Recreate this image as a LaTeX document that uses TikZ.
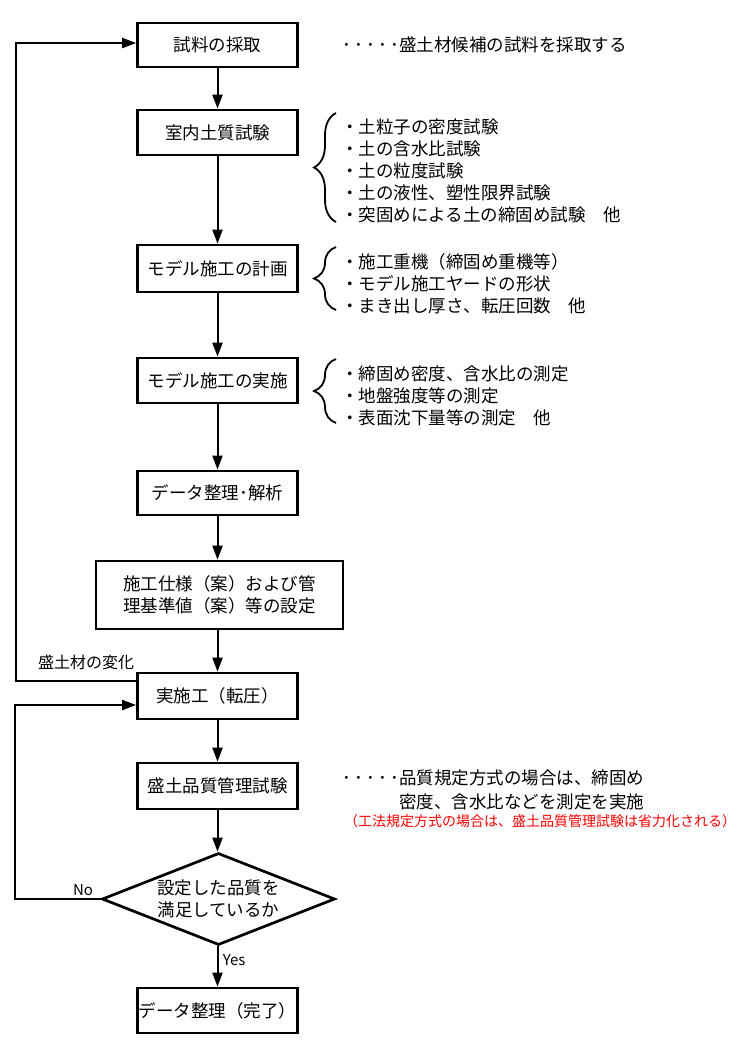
\documentclass[tikz,border=0pt]{standalone}
\usepackage{fontspec}
\setmainfont{Noto Sans CJK JP}
\usetikzlibrary{arrows.meta,shapes.geometric,decorations.pathreplacing}
\newcommand\mainfs{\fontsize{17.5}{22}\selectfont}
\newcommand\fivedots{\hbox to 57pt{･\hfil･\hfil･\hfil･\hfil･}}
\begin{document}
\begin{tikzpicture}[x=1pt,y=-1pt,
 box/.style={draw, line width=2.7pt, minimum width=160pt, minimum height=45pt, inner sep=0pt, font=\mainfs, align=center},
 arr/.style={-{Triangle[length=14pt,width=10pt]}, line width=2pt},
 brc/.style={decorate, decoration={brace, amplitude=22pt}, line width=1.8pt},
 note/.style={font=\mainfs, align=left, anchor=west, inner sep=0pt}]
\useasboundingbox (0,0) rectangle (750,1059);
\fill[white] (0,0) rectangle (750,1059);

\node[box, minimum height=44pt] (b1) at (217.5,45) {試料の採取};
\node[box] (b2) at (217.5,132.5) {室内土質試験};
\node[box, minimum height=47pt] (b3) at (217.5,268.5) {モデル施工の計画};
\node[box] (b4) at (217.5,380.5) {モデル施工の実施};
\node[box, minimum height=44pt] (b5) at (217.5,493) {データ整理･解析};
\node[box, minimum width=247pt, minimum height=68pt] (b6) at (219.5,595) {施工仕様（案）および管\\理基準値（案）等の設定};
\node[box, minimum height=46pt] (b7) at (217.5,696) {実施工（転圧）};
\node[box, minimum height=46pt] (b8) at (217.5,786) {盛土品質管理試験};
\node[draw, diamond, shape aspect=2.53, minimum width=233pt, minimum height=92pt, inner sep=0pt, line width=2.7pt, font=\mainfs, align=center] (dia) at (218.5,899) {設定した品質を\\満足しているか};
\node[box, minimum height=45pt] (b9) at (217.5,1010.5) {データ整理（完了）};

\draw[arr] (b1) -- (b2);
\draw[arr] (b2) -- (b3);
\draw[arr] (b3) -- (b4);
\draw[arr] (b4) -- (b5);
\draw[arr] (b5.south) -- (b5.south |- b6.north);
\draw[arr] (b5.south |- b6.south) -- (b7.north);
\draw[arr] (b7) -- (b8);
\draw[arr] (b8.south) -- (b8.south |- dia.north);
\draw[arr] (dia.south -| b9.north) -- (b9.north) node[pos=0.35, right=1pt, font=\fontsize{15}{18}\selectfont] (yes) {Yes};

\draw[arr] ([yshift=15pt]b7.west) -- ++(-120,0) coordinate (c1) |- ([yshift=2pt]b1.west);
\node[font=\fontsize{16}{20}\selectfont, inner sep=0pt] (chg) at (86,662) {盛土材の変化};

\draw[arr] (dia.west) -- ++(-86,0) coordinate (c2) |- ([yshift=-9pt]b7.west);
\node[font=\fontsize{15}{18}\selectfont, inner sep=0pt] (no) at (83,890) {No};

\node[note] (n1) at (342,45) {\fivedots 盛土材候補の試料を採取する};

\draw[brc] (336,222) -- (336,113);
\node[note] (n2) at (341,171) {・土粒子の密度試験\\・土の含水比試験\\・土の粒度試験\\・土の液性、塑性限界試験\\・突固めによる土の締固め試験　他};

\draw[brc] (336,310) -- (336,247);
\node[note] (n3) at (341,284) {・施工重機（締固め重機等）\\・モデル施工ヤードの形状\\・まき出し厚さ、転圧回数　他};

\draw[brc] (336,423) -- (336,359);
\node[note] (n4) at (341,396) {・締固め密度、含水比の測定\\・地盤強度等の測定\\・表面沈下量等の測定　他};

\node[note] (n8) at (342,778) {\fivedots 品質規定方式の場合は、締固め};
\node[note] (n8b) at (399,802) {密度、含水比などを測定を実施};
\node[font=\fontsize{14}{16}\selectfont, text=red, inner sep=0pt] (n8c) at (540,821) {（工法規定方式の場合は、盛土品質管理試験は省力化される）};
\end{tikzpicture}
\end{document}
